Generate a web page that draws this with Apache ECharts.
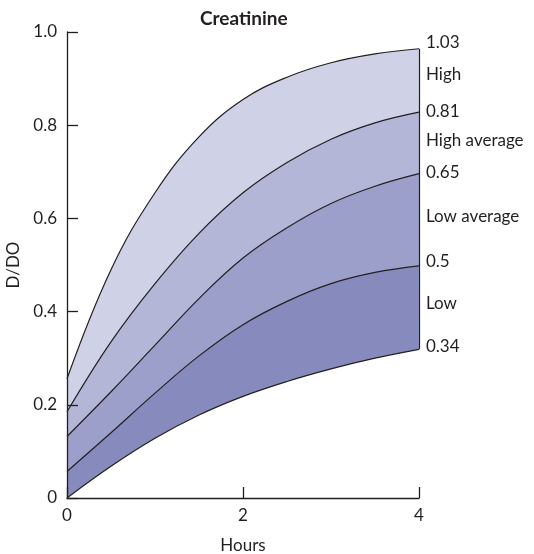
<!DOCTYPE html>
<html>
<head>
<meta charset="utf-8">
<script src="https://cdn.jsdelivr.net/npm/echarts@6/dist/echarts.min.js"></script>
<style>
  html, body { margin: 0; padding: 0; background: #fff; }
  #chart { width: 534px; height: 554px; }
</style>
</head>
<body>
<div id="chart"></div>
<script>
// Dialysate creatinine ratio over a 4-hour dwell, banded by transport category
const hours = [0, 0.5, 1, 1.5, 2, 2.5, 3, 3.5, 4];
const curveHigh        = [0.256, 0.490, 0.655, 0.775, 0.855, 0.903, 0.934, 0.953, 0.964];
const curveHighAverage = [0.185, 0.335, 0.460, 0.568, 0.655, 0.720, 0.770, 0.805, 0.828];
const curveLowAverage  = [0.132, 0.228, 0.328, 0.428, 0.515, 0.580, 0.632, 0.669, 0.696];
const curveLow         = [0.057, 0.140, 0.225, 0.305, 0.372, 0.422, 0.460, 0.484, 0.498];
const curveFloor       = [0.000, 0.068, 0.128, 0.178, 0.218, 0.250, 0.277, 0.300, 0.319];

const limitLabels = ['1.03', '0.81', '0.65', '0.5', '0.34'];
const bandNames = ['High', 'High average', 'Low average', 'Low'];
const yTickLabels = ['0', '0.2', '0.4', '0.6', '0.8', '1.0'];

const curves = [curveHigh, curveHighAverage, curveLowAverage, curveLow, curveFloor];
const fills = ['#cfd1e6', '#b4b6d7', '#9d9fcb', '#878abd', '#ffffff'];
const limitShift = [-6, -1, -1, -4, -3];
const nameShift = [-6, -2, -3, -4];

const ink = '#231f20';
const font = 'Lato, "Open Sans", sans-serif';
const textSize = 17;

const last = arr => arr[arr.length - 1];

const series = curves.map((c, i) => ({
  type: 'line',
  data: hours.map((h, k) => [h, c[k]]),
  smooth: 0.4,
  symbol: 'none',
  lineStyle: { color: ink, width: 1.2 },
  areaStyle: { color: fills[i], opacity: 1 },
  z: 2 + i,
  silent: true,
  endLabel: {
    show: true,
    formatter: () => limitLabels[i],
    color: ink,
    fontFamily: font,
    fontSize: textSize,
    distance: 7,
    offset: [0, limitShift[i]]
  }
}));

// right-hand edge of the bands
series[0].markLine = {
  silent: true,
  symbol: 'none',
  label: { show: false },
  lineStyle: { color: ink, width: 1.2, type: 'solid' },
  data: [[
    { coord: [last(hours), last(curveHigh)] },
    { coord: [last(hours), last(curveFloor)] }
  ]]
};

// category names between the limits
series[4].markPoint = {
  silent: true,
  symbol: 'circle',
  symbolSize: 0,
  data: bandNames.map((name, i) => ({
    name: name,
    coord: [last(hours), (last(curves[i]) + last(curves[i + 1])) / 2],
    label: {
      show: true,
      position: 'right',
      distance: 7,
      offset: [0, nameShift[i]],
      color: ink,
      fontFamily: font,
      fontSize: textSize,
      formatter: p => p.name
    }
  }))
};

const chart = echarts.init(document.getElementById('chart'), null, { renderer: 'canvas' });
chart.setOption({
  animation: false,
  backgroundColor: '#ffffff',
  title: {
    text: 'Creatinine',
    left: 195,
    top: 4,
    textStyle: { fontFamily: font, fontSize: 19, fontWeight: 'bold', color: ink }
  },
  grid: { left: 67, right: 115, top: 32, bottom: 56, outerBoundsMode: 'none', containLabel: false },
  xAxis: {
    type: 'value',
    min: 0, max: 4, interval: 2,
    z: 10,
    name: 'Hours',
    nameLocation: 'middle',
    nameGap: 39,
    nameTextStyle: { fontFamily: font, fontSize: textSize, color: ink },
    axisLine: { lineStyle: { color: ink, width: 1.3 } },
    axisTick: { inside: true, length: 11, lineStyle: { color: ink, width: 1.3 } },
    axisLabel: { margin: 9, fontFamily: font, fontSize: textSize, color: ink },
    splitLine: { show: false }
  },
  yAxis: {
    type: 'value',
    min: 0, max: 1, interval: 0.2,
    z: 10,
    name: 'D/DO',
    nameLocation: 'middle',
    nameGap: 45,
    nameTextStyle: { fontFamily: font, fontSize: textSize, color: ink },
    axisLine: { show: true, lineStyle: { color: ink, width: 1.3 } },
    axisTick: { show: true, inside: true, length: 11, lineStyle: { color: ink, width: 1.3 } },
    axisLabel: {
      margin: 10, fontFamily: font, fontSize: textSize, color: ink,
      formatter: v => yTickLabels[Math.round(v / 0.2)]
    },
    splitLine: { show: false }
  },
  series: series
});
</script>
</body>
</html>
